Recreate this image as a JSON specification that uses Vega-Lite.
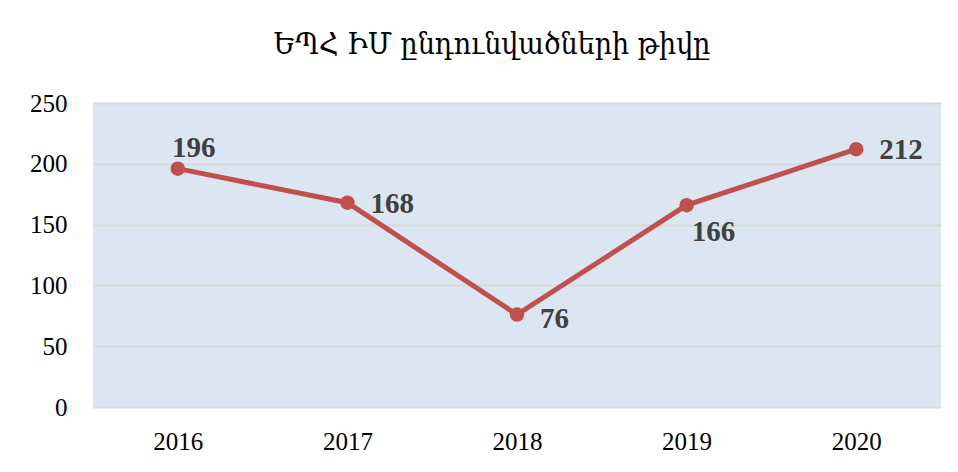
{
  "$schema": "https://vega.github.io/schema/vega-lite/v6.json",
  "width": 848,
  "height": 304,
  "autosize": "none",
  "padding": {"left": 93, "top": 103, "right": 17, "bottom": 65},
  "background": "white",
  "title": {
    "text": "ԵՊՀ ԻՄ ընդունվածների թիվը",
    "font": "DejaVu Serif Condensed",
    "fontSize": 30,
    "fontWeight": "normal",
    "color": "#000000",
    "anchor": "middle",
    "frame": "group",
    "dx": -25,
    "offset": 31
  },
  "config": {
    "view": {"fill": "#DCE6F2", "stroke": null},
    "axis": {"labelFont": "Liberation Serif", "labelColor": "#000000", "labelFontSize": 25}
  },
  "data": {
    "values": [
      {"year": "2016", "count": 196},
      {"year": "2017", "count": 168},
      {"year": "2018", "count": 76},
      {"year": "2019", "count": 166},
      {"year": "2020", "count": 212}
    ]
  },
  "encoding": {
    "x": {
      "field": "year", "type": "ordinal",
      "scale": {"type": "point", "padding": 0.5},
      "axis": {"title": null, "labelAngle": 0, "domain": false, "ticks": false, "grid": false, "labelPadding": 22}
    },
    "y": {
      "field": "count", "type": "quantitative",
      "scale": {"domain": [0, 250], "nice": false},
      "axis": {"title": null, "values": [0, 50, 100, 150, 200, 250], "domain": false, "ticks": false, "grid": true, "gridColor": "#D9D9D9", "gridWidth": 2, "labelPadding": 26}
    }
  },
  "layer": [
    {"mark": {"type": "line", "color": "#C0504D", "strokeWidth": 5}},
    {"mark": {"type": "point", "filled": true, "color": "#C0504D", "size": 210, "opacity": 1}},
    {
      "transform": [{"filter": "datum.year === '2016'"}],
      "mark": {"type": "text", "font": "Liberation Serif", "fontSize": 29, "fontWeight": "bold", "color": "#404040", "align": "center", "baseline": "middle", "dx": 16, "dy": -21},
      "encoding": {"text": {"field": "count"}}
    },
    {
      "transform": [{"filter": "datum.year === '2017' || datum.year === '2020'"}],
      "mark": {"type": "text", "font": "Liberation Serif", "fontSize": 29, "fontWeight": "bold", "color": "#404040", "align": "left", "baseline": "middle", "dx": 23, "dy": 1},
      "encoding": {"text": {"field": "count"}}
    },
    {
      "transform": [{"filter": "datum.year === '2018'"}],
      "mark": {"type": "text", "font": "Liberation Serif", "fontSize": 29, "fontWeight": "bold", "color": "#404040", "align": "left", "baseline": "middle", "dx": 23, "dy": 4},
      "encoding": {"text": {"field": "count"}}
    },
    {
      "transform": [{"filter": "datum.year === '2019'"}],
      "mark": {"type": "text", "font": "Liberation Serif", "fontSize": 29, "fontWeight": "bold", "color": "#404040", "align": "center", "baseline": "middle", "dx": 27, "dy": 27},
      "encoding": {"text": {"field": "count"}}
    }
  ]
}
